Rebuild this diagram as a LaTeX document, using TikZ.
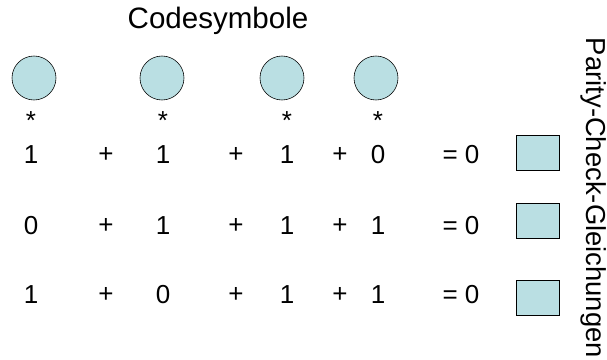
\documentclass[tikz,border=0pt]{standalone}
\usepackage{fontspec}
\setmainfont{Liberation Sans}
\definecolor{symfill}{RGB}{186,223,227}
\begin{document}
\begin{tikzpicture}[x=0.025cm, y=-0.025cm,
  sym/.style={draw, thin, fill=symfill, circle, minimum size=1.1cm, inner sep=0pt},
  check/.style={draw, thin, fill=symfill, minimum width=1.075cm, minimum height=0.875cm, inner sep=0pt},
  bit/.style={inner sep=0pt, font=\fontsize{18.5}{22}\selectfont},
  big/.style={inner sep=0pt, font=\fontsize{21}{25}\selectfont}]
\useasboundingbox (0,0) rectangle (607,360);

\node[big] (title) at (218,21) {Codesymbole};
\node[big, rotate=-90, font=\fontsize{19.5}{23}\selectfont] (side) at (594,198) {Parity-Check-Gleichungen};

\node[sym] (s1) at (34,78) {};
\node[sym] (s2) at (162,78) {};
\node[sym] (s3) at (282,78) {};
\node[sym] (s4) at (376,78) {};

\node[bit] (m1) at (31,121) {*};
\node[bit] (m2) at (163,121) {*};
\node[bit] (m3) at (287,121) {*};
\node[bit] (m4) at (378,121) {*};

\node[bit] (a1) at (31,155) {1};
\node[bit] (pa1) at (106,155) {+};
\node[bit] (a2) at (163,155) {1};
\node[bit] (pa2) at (236,155) {+};
\node[bit] (a3) at (287,155) {1};
\node[bit] (pa3) at (340,155) {+};
\node[bit] (a4) at (378,155) {0};
\node[bit] (ea) at (461,155) {= 0};
\node[check] (c1) at (537.5,152.5) {};

\node[bit] (b1) at (31,226) {0};
\node[bit] (pb1) at (106,226) {+};
\node[bit] (b2) at (163,226) {1};
\node[bit] (pb2) at (236,226) {+};
\node[bit] (b3) at (287,226) {1};
\node[bit] (pb3) at (340,226) {+};
\node[bit] (b4) at (378,226) {1};
\node[bit] (eb) at (461,226) {= 0};
\node[check] (c2) at (537.5,220.5) {};

\node[bit] (r1) at (31,295) {1};
\node[bit] (pr1) at (106,295) {+};
\node[bit] (r2) at (163,295) {0};
\node[bit] (pr2) at (236,295) {+};
\node[bit] (r3) at (287,295) {1};
\node[bit] (pr3) at (340,295) {+};
\node[bit] (r4) at (378,295) {1};
\node[bit] (er) at (461,295) {= 0};
\node[check] (c3) at (537.5,298) {};
\end{tikzpicture}
\end{document}
